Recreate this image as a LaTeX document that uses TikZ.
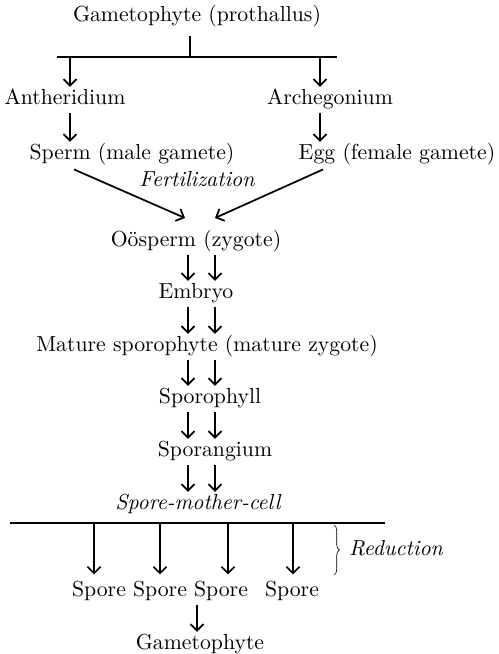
\documentclass[tikz,border=0pt]{standalone}
\usetikzlibrary{arrows.meta,decorations.pathreplacing}
\tikzset{
  stage/.style={inner sep=1pt,yshift=-0.8pt,text height=7pt,text depth=2.5pt,font=\fontsize{10}{12}\selectfont},
  phase/.style={stage,font=\fontsize{10}{12}\selectfont\itshape},
  down/.style={-{Straight Barb[length=3pt,width=6pt]},line width=0.8pt},
  bar/.style={line width=1pt},
}

\begin{document}
\begin{tikzpicture}[x=0.46pt,y=-0.46pt]
  \useasboundingbox (0,0) rectangle (498,654);
  % gametophyte generation
  \node[stage] (gam) at (197,15) {Gametophyte (prothallus)};
  \coordinate (barL) at (57,57);
  \coordinate (barM) at (190,57);
  \coordinate (barR) at (337,57);
  \draw[bar] (barL) -- (barR);
  \draw[line width=0.8pt,shorten <=3pt] (gam.south -| barM) -- (barM);
  \coordinate (colA) at (70,0);
  \coordinate (colB) at (320,0);
  \coordinate (colE) at (327,0);
  \node[stage] (anth) at (65,98) {Antheridium};
  \node[stage] (arch) at (330,98) {Archegonium};
  \draw[down] (barL -| colA) -- (anth.north -| colA);
  \draw[down] (barL -| colB) -- (arch.north -| colB);
  \node[stage] (sperm) at (132,153) {Sperm (male gamete)};
  \node[stage] (egg) at (397,153) {Egg (female gamete)};
  \draw[down] (anth.south -| colA) -- (sperm.north -| colA);
  \draw[down] (arch.south -| colB) -- (egg.north -| colB);
  % fertilization
  \node[phase] (fert) at (197,180) {Fertilization};
  \coordinate (fertL) at (185,218);
  \coordinate (fertR) at (215,218);
  \draw[down,shorten <=2pt] (sperm.south -| colA) -- (fertL);
  \draw[down,shorten <=2pt] (egg.south -| colE) -- (fertR);
  % sporophyte generation
  \node[stage] (oos) at (196,240) {Oösperm (zygote)};
  \node[stage] (emb) at (196,292) {Embryo};
  \node[stage] (mat) at (207,345) {Mature sporophyte (mature zygote)};
  \node[stage] (phyll) at (210,397) {Sporophyll};
  \node[stage] (sang) at (215,450) {Sporangium};
  \node[phase] (smc) at (198,503) {Spore-mother-cell};
  \coordinate (cL) at (188,0);
  \coordinate (cR) at (215,0);
  \foreach \a/\b in {oos/emb,emb/mat,mat/phyll,phyll/sang,sang/smc}
    \foreach \c in {cL,cR}
      \draw[down] (\a.south -| \c) -- (\b.north -| \c);
  % reduction
  \coordinate (bar2L) at (10,523);
  \coordinate (bar2R) at (385,523);
  \draw[bar] (bar2L) -- (bar2R);
  \foreach \x/\s [count=\i] in {94/99,160/160,228/221,293/292} {
    \coordinate (t\i) at (\x,523);
    \node[stage] (sp\i) at (\s,590) {Spore};
    \draw[down,shorten >=2pt] (t\i) -- (sp\i.north -| t\i);
  }
  \coordinate (brT) at (334,525);
  \coordinate (brB) at (334,575);
  \draw[line width=0.3pt,decorate,decoration={brace,amplitude=2.5pt}] (brT) -- (brB);
  \node[phase] (red) at (396,549) {Reduction};
  \node[stage] (gam2) at (200,643) {Gametophyte};
  \coordinate (colG) at (197,0);
  \draw[down] (sp3.south -| colG) -- (gam2.north -| colG);
\end{tikzpicture}
\end{document}
